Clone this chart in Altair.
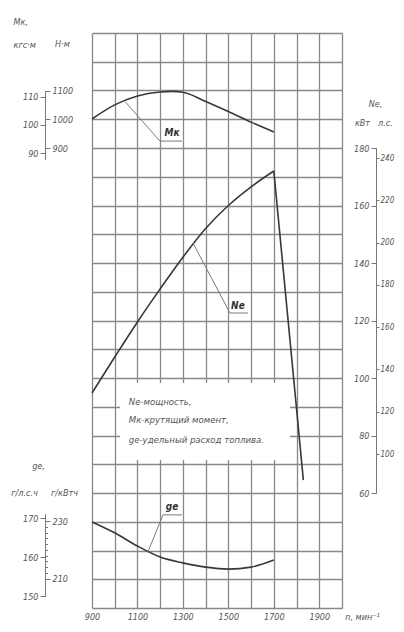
import altair as alt
import pandas as pd

# ---------------- data ----------------
# torque Mk, N*m
rpm_me = [900, 1000, 1100, 1200, 1250, 1300, 1400, 1500, 1600, 1700]
me_nm = [1001, 1050, 1081, 1095, 1097, 1094, 1062, 1027, 990, 956]

# power Ne, kW (rising branch and governor drop)
rpm_ne_rise = [900, 1000, 1100, 1200, 1300, 1400, 1500, 1600, 1700]
ne_kw_rise = [94.8, 107.3, 119.5, 131.0, 142.0, 152.0, 160.0, 166.5, 172.0]
rpm_ne_drop = [1700, 1830]
ne_kw_drop = [172.0, 64.5]

# specific fuel consumption ge, g/(hp*h)
rpm_ge = [900, 1000, 1100, 1200, 1300, 1400, 1500, 1600, 1700]
ge_hph = [169.0, 166.2, 162.8, 160.0, 158.5, 157.4, 156.9, 157.4, 159.2]

# tick labels
x_ticks = list(range(900, 2001, 100))
kw_ticks = [60, 80, 100, 120, 140, 160, 180]
hp_ticks = [100, 120, 140, 160, 180, 200, 220, 240]
nm_ticks = [900, 1000, 1100]
kgfm_ticks = [90, 100, 110]
ghph_ticks = [150, 160, 170]
gkwh_ticks = [210, 230]
gkwh_minor = list(range(212, 229, 2))

# curve labels (leader lines)
me_lead_rpm = [1045, 1199, 1296]
me_lead_nm = [1062, 924, 924]
ne_lead_rpm = [1344, 1507, 1586]
ne_lead_kw = [147.0, 122.6, 122.6]
ge_lead_rpm = [1146, 1212, 1296]
ge_lead_g = [161.3, 170.8, 170.8]
lbl_names = ["Mк", "Nе", "gе"]
lbl_rpm = [1252, 1542, 1252]

# legend text
legend_lines = ["Nе-мощность,", "Mк-крутящий момент,", "gе-удельный расход топлива."]
legend_kw = [91.7, 85.4, 78.4]
legend_rpm = 1062
box_rpm = [1023, 1771]
box_kw = [71.5, 98.3]

KW_PER_HP = 0.7355
NM_PER_KGFM = 9.80665

# ---------------- styling ----------------
W, H = 250, 575
RIGHT_OFF = 34
FONT = "DejaVu Sans Condensed"
TXT = "#555555"
GRID = "#888888"
CURVE = "#383838"
LEAD = "#7a7a7a"

# ---------------- frames ----------------
ne_df = pd.DataFrame({
    "rpm": rpm_ne_rise + rpm_ne_drop,
    "kw": ne_kw_rise + ne_kw_drop,
    "seg": ["rise"] * len(rpm_ne_rise) + ["drop"] * len(rpm_ne_drop),
})
ne_df["hp"] = ne_df["kw"] / KW_PER_HP

me_df = pd.DataFrame({"rpm": rpm_me, "nm": me_nm})
me_df["kgfm"] = me_df["nm"] / NM_PER_KGFM

ge_df = pd.DataFrame({"rpm": rpm_ge, "ghph": ge_hph})
ge_df["gkwh"] = ge_df["ghph"] / KW_PER_HP

me_lead = pd.DataFrame({"rpm": me_lead_rpm, "nm": me_lead_nm, "o": [0, 1, 2]})
ne_lead = pd.DataFrame({"rpm": ne_lead_rpm, "kw": ne_lead_kw, "o": [0, 1, 2]})
ge_lead = pd.DataFrame({"rpm": ge_lead_rpm, "ghph": ge_lead_g, "o": [0, 1, 2]})

me_lbl = pd.DataFrame({"rpm": [lbl_rpm[0]], "nm": [952], "t": [lbl_names[0]]})
ne_lbl = pd.DataFrame({"rpm": [lbl_rpm[1]], "kw": [125.0], "t": [lbl_names[1]]})
ge_lbl = pd.DataFrame({"rpm": [lbl_rpm[2]], "ghph": [172.8], "t": [lbl_names[2]]})

box_df = pd.DataFrame({"rpm": [box_rpm[0]], "rpm2": [box_rpm[1]], "y1": [box_kw[0]], "y2": [box_kw[1]]})
leg_df = pd.DataFrame({"rpm": [legend_rpm] * 3, "kw": legend_kw, "t": legend_lines})

# ---------------- scales ----------------
x_scale = alt.Scale(domain=[900, 2000], nice=False)
grid_scale = alt.Scale(domain=[20, 220], nice=False)
kw_scale = alt.Scale(domain=[60, 180], range=[460, 115], nice=False)
hp_scale = alt.Scale(domain=[60 / KW_PER_HP, 180 / KW_PER_HP], range=[460, 115], nice=False)
nm_dom = [860, 1100]
me_rng = [126.5, 57.5]
nm_scale = alt.Scale(domain=nm_dom, range=me_rng, nice=False)
kgf_scale = alt.Scale(domain=[d / NM_PER_KGFM for d in nm_dom], range=me_rng, nice=False)
g_dom = [150, 171]
g_rng = [563, 481.1]
ghph_scale = alt.Scale(domain=g_dom, range=g_rng, nice=False)
gkwh_scale = alt.Scale(domain=[d / KW_PER_HP for d in g_dom], range=g_rng, nice=False)

title_common = dict(titleAngle=0, titleAlign="center", titleBaseline="middle")

x_axis = alt.Axis(values=x_ticks, grid=True, gridColor=GRID, gridWidth=1.3,
                  domain=False, ticks=False, format="d", labelFlush=False,
                  labelExpr="datum.value % 200 == 100 ? datum.label : ''",
                  labelPadding=4, title="n, мин⁻¹", titleX=270, titleY=8, **title_common)
x_main = alt.X("rpm:Q", scale=x_scale, axis=x_axis)

# grid + power curve
y_grid = alt.Y("kw:Q", scale=grid_scale,
               axis=alt.Axis(orient="right", values=list(range(20, 221, 10)), grid=True,
                             gridColor=GRID, gridWidth=1.3, labels=False, ticks=False,
                             domain=False, title="Nе,", titleX=33, titleY=70, **title_common))
ne_line = alt.Chart(ne_df).mark_line(color=CURVE, strokeWidth=1.6, interpolate="monotone").encode(
    x=x_main, y=y_grid, detail="seg:N")

kw_axis = alt.Chart(ne_df).mark_line(opacity=0).encode(
    x=x_main, detail="seg:N",
    y=alt.Y("kw:Q", scale=kw_scale,
            axis=alt.Axis(orient="left", offset=-(W + RIGHT_OFF), values=kw_ticks, tickSize=5,
                          labelPadding=2, title="кВт", titleX=-14, titleY=89, **title_common)))
hp_axis = alt.Chart(ne_df).mark_line(opacity=0).encode(
    x=x_main, detail="seg:N",
    y=alt.Y("hp:Q", scale=hp_scale,
            axis=alt.Axis(orient="right", offset=RIGHT_OFF, values=hp_ticks, tickSize=3,
                          labelPadding=1, labelFontSize=8, title="л.с.", titleX=9, titleY=89,
                          **title_common)))

# torque
me_line = alt.Chart(me_df).mark_line(color=CURVE, strokeWidth=1.6, interpolate="monotone").encode(
    x=x_main,
    y=alt.Y("nm:Q", scale=nm_scale,
            axis=alt.Axis(orient="right", offset=-(W + 47), values=nm_ticks, tickSize=5,
                          format="d", labelPadding=2, title="Н·м", titleX=17, titleY=10,
                          **title_common)))
kgf_axis = alt.Chart(me_df).mark_line(opacity=0).encode(
    x=x_main,
    y=alt.Y("kgfm:Q", scale=kgf_scale,
            axis=alt.Axis(orient="left", offset=47, values=kgfm_ticks, tickSize=5, labelPadding=2,
                          title=["Mк,", "кгс·м"], titleAngle=0, titleAlign="left",
                          titleBaseline="alphabetic", titleLineHeight=23, titleX=-32, titleY=-9)))

# fuel consumption
ge_line = alt.Chart(ge_df).mark_line(color=CURVE, strokeWidth=1.6, interpolate="monotone").encode(
    x=x_main,
    y=alt.Y("ghph:Q", scale=ghph_scale,
            axis=alt.Axis(orient="left", offset=47, values=ghph_ticks, tickSize=5, labelPadding=2,
                          title="г/л.с.ч", titleX=-21, titleY=459, **title_common)))
gkwh_axis = alt.Chart(ge_df).mark_line(opacity=0).encode(
    x=x_main,
    y=alt.Y("gkwh:Q", scale=gkwh_scale,
            axis=alt.Axis(orient="right", offset=-(W + 47), values=gkwh_ticks, tickSize=5,
                          labelPadding=2, title="г/кВтч", titleX=19, titleY=459, **title_common)))
gkwh_minor_axis = alt.Chart(ge_df).mark_line(opacity=0).encode(
    x=x_main,
    y=alt.Y("gkwh:Q", scale=gkwh_scale,
            axis=alt.Axis(orient="right", offset=-(W + 47), values=gkwh_minor, tickSize=2.5,
                          labels=False, domain=False, title="gе,", titleX=-7, titleY=432,
                          **title_common)))

# legend box and text
box = alt.Chart(box_df).mark_rect(fill="white").encode(
    x=x_main, x2="rpm2:Q",
    y=alt.Y("y1:Q", scale=grid_scale, axis=None), y2="y2:Q")
leg_text = alt.Chart(leg_df).mark_text(align="left", baseline="middle", font=FONT, fontStyle="italic",
                                       fontSize=9.5, color=TXT).encode(
    x=x_main, y=alt.Y("kw:Q", scale=grid_scale, axis=None), text="t:N")

# leader lines + labels
lead_style = dict(color=LEAD, strokeWidth=1)
me_lead_l = alt.Chart(me_lead).mark_line(**lead_style).encode(
    x=x_main, y=alt.Y("nm:Q", scale=nm_scale, axis=None), order="o:Q")
ne_lead_l = alt.Chart(ne_lead).mark_line(**lead_style).encode(
    x=x_main, y=alt.Y("kw:Q", scale=grid_scale, axis=None), order="o:Q")
ge_lead_l = alt.Chart(ge_lead).mark_line(**lead_style).encode(
    x=x_main, y=alt.Y("ghph:Q", scale=ghph_scale, axis=None), order="o:Q")
lbl_style = dict(font=FONT, fontStyle="italic", fontWeight="bold", fontSize=10, color="#333333",
                 baseline="middle", align="center")
me_t = alt.Chart(me_lbl).mark_text(**lbl_style).encode(
    x=x_main, y=alt.Y("nm:Q", scale=nm_scale, axis=None), text="t:N")
ne_t = alt.Chart(ne_lbl).mark_text(**lbl_style).encode(
    x=x_main, y=alt.Y("kw:Q", scale=grid_scale, axis=None), text="t:N")
ge_t = alt.Chart(ge_lbl).mark_text(**lbl_style).encode(
    x=x_main, y=alt.Y("ghph:Q", scale=ghph_scale, axis=None), text="t:N")

chart = alt.layer(
    ne_line, box, kw_axis, hp_axis, me_line, kgf_axis, ge_line, gkwh_axis, gkwh_minor_axis,
    leg_text, me_lead_l, ne_lead_l, ge_lead_l, me_t, ne_t, ge_t,
).resolve_scale(y="independent", x="shared").resolve_axis(y="independent", x="shared").properties(
    width=W, height=H,
    autosize=alt.AutoSizeParams(type="none"),
    padding={"left": 84, "top": 25, "right": 54, "bottom": 14},
    background="white",
).configure_view(stroke=None).configure_axis(
    labelFont=FONT, labelFontStyle="italic", labelFontSize=9, labelColor=TXT,
    titleFont=FONT, titleFontStyle="italic", titleFontSize=9, titleFontWeight="normal",
    titleColor=TXT, domainColor="#777777", tickColor="#777777", domainWidth=1, tickWidth=1,
)

chart.save("out.html", embed_options={"renderer": "svg", "actions": False})
